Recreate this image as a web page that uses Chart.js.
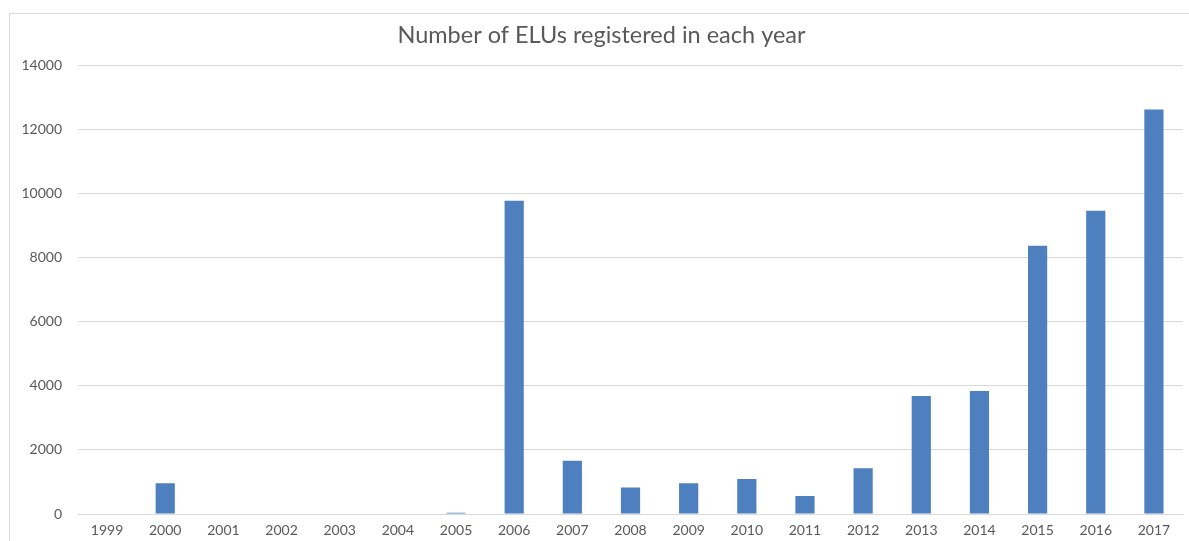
<!DOCTYPE html>
<html>
<head>
<meta charset="utf-8">
<title>ELUs per year</title>
<script src="https://cdn.jsdelivr.net/npm/chart.js@4"></script>
<style>
  html, body { margin: 0; padding: 0; background: #fff; overflow: hidden; }
  #frame {
    position: absolute; left: 9px; top: 13px;
    width: 1220px; height: 580px;
    border: 1px solid #d9d9d9;
  }
  #wrap { position: absolute; left: 0; top: 0; width: 1189px; height: 541px; }
</style>
</head>
<body>
<div id="frame"></div>
<div id="wrap"><canvas id="eluChart"></canvas></div>
<script>
// registration years and counts
const years  = ['1999','2000','2001','2002','2003','2004','2005','2006','2007','2008',
                '2009','2010','2011','2012','2013','2014','2015','2016','2017'];
const counts = [0, 960, 0, 0, 0, 0, 40, 9770, 1660, 830,
                960, 1090, 560, 1430, 3680, 3840, 8370, 9460, 12620];
const yTicks = [0, 2000, 4000, 6000, 8000, 10000, 12000, 14000];

const TEXT = '#595959';
const GRID = '#d9d9d9';
const FONT = 'Lato, "Open Sans", sans-serif';

const ctx = document.getElementById('eluChart').getContext('2d');
new Chart(ctx, {
  type: 'bar',
  data: {
    labels: years,
    datasets: [{
      data: counts,
      backgroundColor: '#4e7fbf',
      borderWidth: 0,
      categoryPercentage: 0.33,
      barPercentage: 1
    }]
  },
  options: {
    responsive: true,
    maintainAspectRatio: false,
    animation: false,
    // left padding nudges the centred title to the right
    layout: { padding: { left: 20, right: 6, top: 0, bottom: 3 } },
    plugins: {
      legend: { display: false },
      tooltip: { enabled: false },
      title: {
        display: true,
        text: 'Number of ELUs registered in each year',
        color: TEXT,
        font: { family: FONT, size: 23.5, weight: 'normal' },
        padding: { top: 21, bottom: 16 }
      }
    },
    scales: {
      x: {
        afterFit: scale => { scale.height = 24; },
        grid: { display: false, drawTicks: false },
        border: { display: true, color: GRID, width: 1 },
        ticks: { color: TEXT, font: { family: FONT, size: 14 }, padding: 8, maxRotation: 0 }
      },
      y: {
        min: 0,
        max: 14000,
        afterBuildTicks: scale => { scale.ticks = yTicks.map(v => ({ value: v })); },
        afterFit: scale => { scale.width = 58; },
        grid: { color: GRID, drawTicks: false },
        border: { display: false },
        ticks: { color: TEXT, font: { family: FONT, size: 14 }, padding: 16,
                 callback: v => String(v) }
      }
    }
  }
});
</script>
</body>
</html>
